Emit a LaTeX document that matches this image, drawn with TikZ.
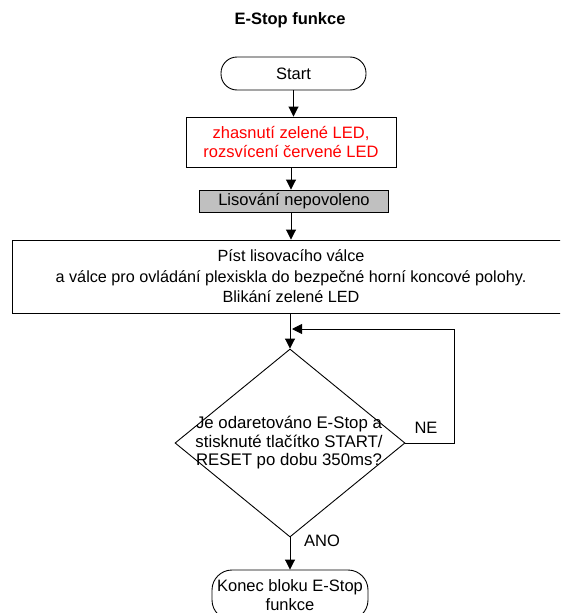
\documentclass[tikz,border=0pt]{standalone}
\usepackage{fontspec}
\setmainfont{Liberation Sans}
\usetikzlibrary{arrows.meta,shapes.geometric}
\definecolor{boxgrey}{HTML}{C0C0C0}
\begin{document}
\begin{tikzpicture}[x=1pt,y=-1pt,
  every node/.style={font=\fontsize{16.5}{19.5}\selectfont},
  box/.style={draw,line width=0.9pt,align=center,inner sep=0pt},
  term/.style={box,rounded corners=16pt},
  arr/.style={line width=0.9pt,-{Triangle[width=10pt,length=10pt]}},
  ln/.style={line width=0.9pt},
  lbl/.style={inner sep=0pt}]
\useasboundingbox (0,0) rectangle (560,613);
\clip (0,0) rectangle (560,613);
\node[lbl,font=\fontsize{16.5}{20}\selectfont\bfseries] (title) at (290,20) {E-Stop funkce};
\node[term,minimum width=145pt,minimum height=33pt] (start) at (293.5,73.5) {Start};
\node[box,text=red,minimum width=210pt,minimum height=50pt] (led) at (291,142) {zhasnutí zelené LED,\\rozsvícení červené LED};
\node[box,fill=boxgrey,minimum width=189pt,minimum height=22pt] (ban) at (294,201) {Lisování nepovoleno};
\node[box,font=\fontsize{16.2}{20.5}\selectfont,minimum width=558pt,minimum height=73pt] (pist) at (291,276.5) {Píst lisovacího válce\\a válce pro ovládání plexiskla do bezpečné horní koncové polohy.\\Blikání zelené LED};
\node[draw,ln,diamond,minimum width=230pt,minimum height=188pt,inner sep=0pt] (dec) at (290,443) {};
\node[lbl,align=center,font=\fontsize{16.8}{18.5}\selectfont] (q) at (289,443) {Je odaretováno E-Stop a\\stisknuté tlačítko START/\\RESET po dobu 350ms?};
\node[term,rounded corners=20pt,minimum width=156pt,minimum height=50pt] (end) at (290,595) {Konec bloku E-Stop\\funkce};
\node[lbl] (ne) at (426,428) {NE};
\node[lbl] (ano) at (322,541) {ANO};
\coordinate (join) at (292,329);
\coordinate (loopR) at (454,443);
\draw[arr] (start.south) -- (start.south |- led.north);
\draw[arr] (led.south) -- (led.south |- ban.north);
\draw[arr] (ban.south -| led.south) -- (led.south |- pist.north);
\draw[arr] (pist.south -| dec.north) -- (dec.north);
\draw[arr] (dec.east) -- (loopR) |- (join);
\draw[arr] (dec.south) -- (end.north);
\end{tikzpicture}
\end{document}
